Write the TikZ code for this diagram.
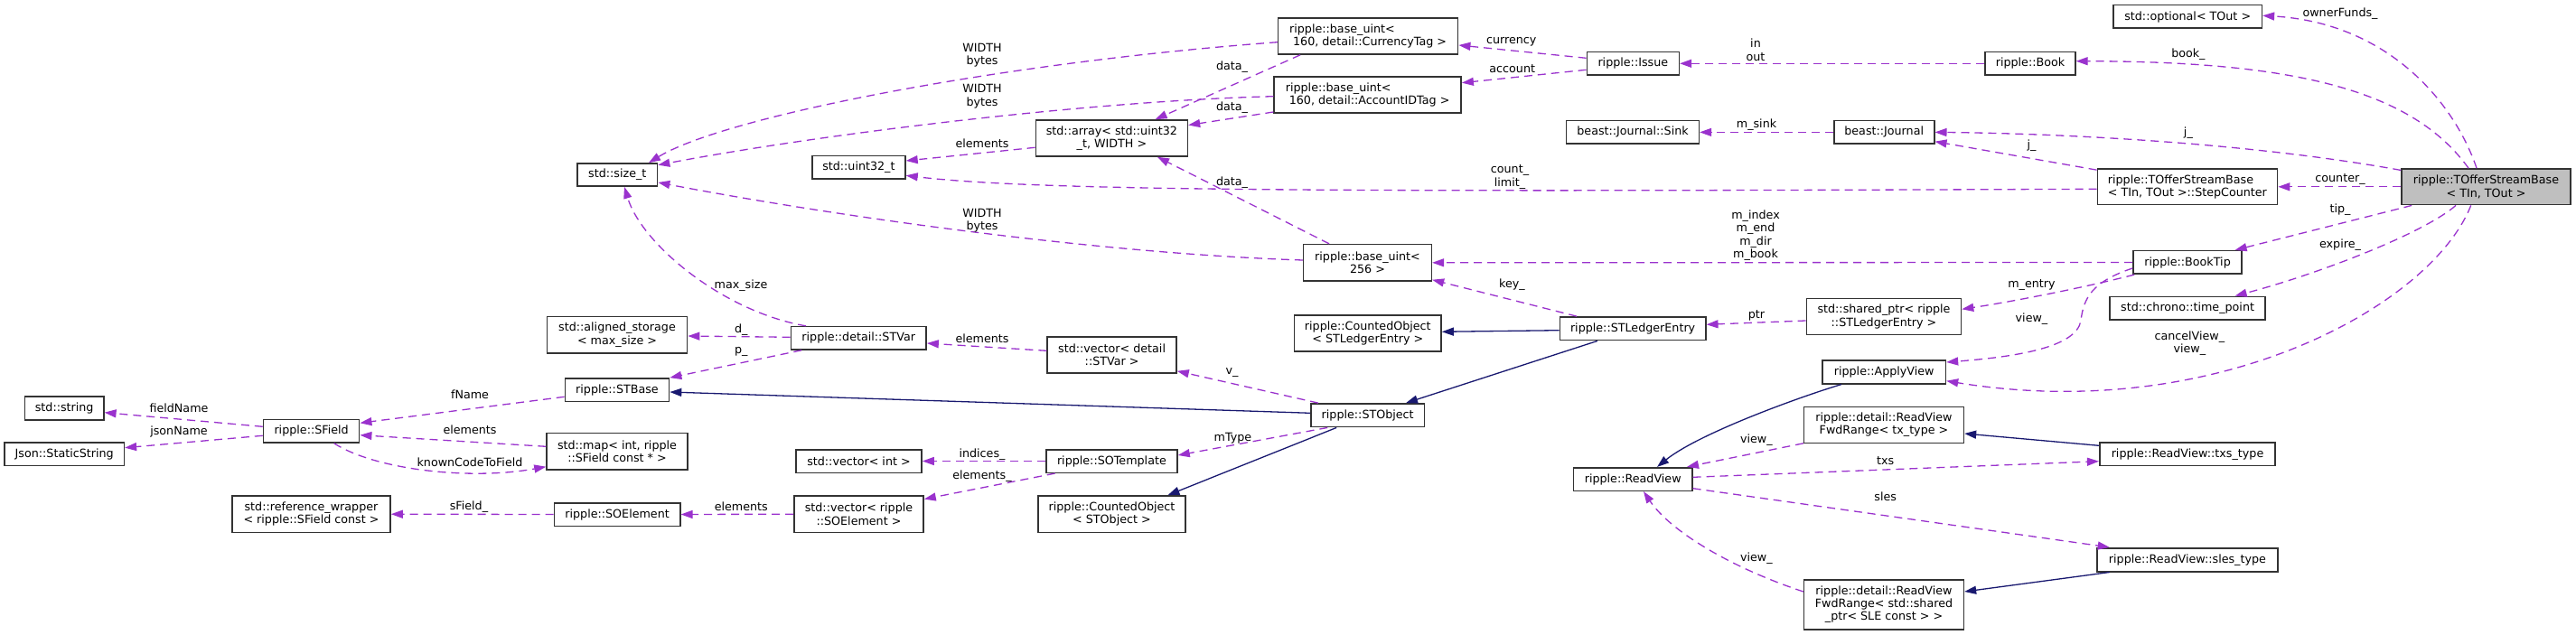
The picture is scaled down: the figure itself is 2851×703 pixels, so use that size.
\documentclass[tikz,border=0pt]{standalone}
\usepackage{fontspec}
\setmainfont{DejaVu Sans}
\usetikzlibrary{arrows.meta}
\definecolor{usecol}{HTML}{9A32CD}
\definecolor{inhcol}{HTML}{191970}
\definecolor{boxgray}{HTML}{333333}
\definecolor{hilite}{HTML}{BFBFBF}
\newcommand\dvfont{\fontsize{12.7}{14.3}\selectfont}
\tikzset{
  cls/.style={draw=boxgray, line width=1.6pt, fill=white, inner sep=0pt, font=\dvfont, align=center},
  clsl/.style={cls, align=left},
  use/.style={draw=usecol, line width=1.3pt, dash pattern=on 9pt off 6pt, -{Triangle[length=13pt,width=9pt]}, usecol},
  inh/.style={draw=inhcol, line width=1.3pt, -{Triangle[length=13pt,width=9pt]}, inhcol},
  lbl/.style={font=\dvfont, align=center, inner sep=0pt, text=black}
}
\begin{document}
\begin{tikzpicture}[x=1pt, y=-1pt]
\useasboundingbox (0,0) rectangle (2851,703);
% ---------- nodes ----------
\node[cls, minimum width=88.5pt, minimum height=25pt] (sizet) at (683.3,193.5) {std::size\_t};
\node[cls, minimum width=103pt, minimum height=25.7pt] (uint32) at (950.4,185.2) {std::uint32\_t};
\node[cls, minimum width=168pt, minimum height=40pt] (arr) at (1230.4,153) {std::array< std::uint32\\\_t, WIDTH >};
\node[clsl, minimum width=199pt, minimum height=40pt] (cur) at (1514.1,40) {ripple::base\_uint<\\\hspace*{4pt}160, detail::CurrencyTag >};
\node[clsl, minimum width=207pt, minimum height=40pt] (acc) at (1513.6,105.2) {ripple::base\_uint<\\\hspace*{4pt}160, detail::AccountIDTag >};
\node[cls, minimum width=102pt, minimum height=25.5pt] (issue) at (1807.3,70.3) {ripple::Issue};
\node[cls, minimum width=99.7pt, minimum height=25.5pt] (book) at (2247,70.3) {ripple::Book};
\node[cls, minimum width=164.3pt, minimum height=25.6pt] (opt) at (2421.2,18.5) {std::optional< TOut >};
\node[cls, minimum width=146.7pt, minimum height=25.8pt] (sink) at (1807,146.4) {beast::Journal::Sink};
\node[cls, minimum width=111pt, minimum height=25.8pt] (journal) at (2085.2,146.4) {beast::Journal};
\node[clsl, minimum width=199.2pt, minimum height=39.7pt] (step) at (2420.9,206.8) {ripple::TOfferStreamBase\\< TIn, TOut >::StepCounter};
\node[cls, fill=hilite, minimum width=187pt, minimum height=39.7pt] (tosb) at (2751.5,206.8) {ripple::TOfferStreamBase\\< TIn, TOut >};
\node[cls, minimum width=141.7pt, minimum height=40.3pt] (u256) at (1513.5,290.8) {ripple::base\_uint<\\256 >};
\node[cls, minimum width=120.3pt, minimum height=25.6pt] (booktip) at (2421.1,290.5) {ripple::BookTip};
\node[cls, minimum width=172pt, minimum height=25.7pt] (chrono) at (2421.1,341.2) {std::chrono::time\_point};
\node[cls, minimum width=171pt, minimum height=40pt] (shptr) at (2085,350.4) {std::shared\_ptr< ripple\\::STLedgerEntry >};
\node[cls, minimum width=161.3pt, minimum height=25.7pt] (sle) at (1807.1,363.8) {ripple::STLedgerEntry};
\node[cls, minimum width=162.4pt, minimum height=40pt] (coSLE) at (1513.8,369.2) {ripple::CountedObject\\< STLedgerEntry >};
\node[cls, minimum width=136.4pt, minimum height=25.5pt] (applyview) at (2085.2,412) {ripple::ApplyView};
\node[cls, minimum width=176.7pt, minimum height=40.2pt] (frtx) at (2085,470.4) {ripple::detail::ReadView\\FwdRange< tx\_type >};
\node[cls, minimum width=131.2pt, minimum height=25.6pt] (readview) at (1807.2,530.5) {ripple::ReadView};
\node[cls, minimum width=194.5pt, minimum height=25.3pt] (txstype) at (2421,502.7) {ripple::ReadView::txs\_type};
\node[cls, minimum width=200.2pt, minimum height=26pt] (slestype) at (2420.9,619.7) {ripple::ReadView::sles\_type};
\node[cls, minimum width=176.7pt, minimum height=55pt] (frsle) at (2085,669.2) {ripple::detail::ReadView\\FwdRange< std::shared\\\_ptr< SLE const > >};
\node[cls, minimum width=125.4pt, minimum height=25.7pt] (stobject) at (1513.7,459.8) {ripple::STObject};
\node[cls, minimum width=149.7pt, minimum height=25.3pt] (stvar) at (950.2,374.3) {ripple::detail::STVar};
\node[cls, minimum width=142.8pt, minimum height=40pt] (vecstvar) at (1230.6,393) {std::vector< detail\\::STVar >};
\node[cls, minimum width=155.2pt, minimum height=40.2pt] (aligned) at (683,370.6) {std::aligned\_storage\\< max\_size >};
\node[cls, minimum width=115.1pt, minimum height=25.7pt] (stbase) at (683,431.8) {ripple::STBase};
\node[cls, minimum width=155.9pt, minimum height=40.5pt] (map) at (683,499.8) {std::map< int, ripple\\::SField const * >};
\node[cls, minimum width=106.1pt, minimum height=25.3pt] (sfield) at (344.6,477.3) {ripple::SField};
\node[cls, minimum width=87.2pt, minimum height=26pt] (string) at (71.2,452) {std::string};
\node[cls, minimum width=132.3pt, minimum height=25.6pt] (jsonss) at (71.2,502.5) {Json::StaticString};
\node[cls, minimum width=175pt, minimum height=40.3pt] (refwrap) at (344.5,569.2) {std::reference\_wrapper\\< ripple::SField const >};
\node[cls, minimum width=139.3pt, minimum height=25.6pt] (soelement) at (683.1,569.5) {ripple::SOElement};
\node[cls, minimum width=143pt, minimum height=40.3pt] (vecsoel) at (950.5,569.2) {std::vector< ripple\\::SOElement >};
\node[cls, minimum width=139pt, minimum height=25.6pt] (vecint) at (950.5,510.5) {std::vector< int >};
\node[cls, minimum width=145.2pt, minimum height=25.6pt] (sotemplate) at (1230.4,510.5) {ripple::SOTemplate};
\node[cls, minimum width=163pt, minimum height=40.3pt] (coSTO) at (1230.5,569.2) {ripple::CountedObject\\< STObject >};
% ---------- usage edges ----------
\draw[use] ([yshift=-6.7pt]cur.west) .. controls (1100,70) and (800,130) .. ([xshift=34.7pt]sizet.north);
\draw[use] ([yshift=-1.5pt]acc.west) .. controls (1200,112) and (900,150) .. ([yshift=10.8pt]sizet.east);
\draw[use] ([yshift=2.8pt]u256.west) .. controls (1200,280) and (900,235) .. ([yshift=-8.5pt]sizet.east);
\draw[use] ([xshift=-75pt]cur.south) -- ([xshift=48.2pt]arr.north);
\draw[use] ([yshift=-18.8pt]acc.west) -- ([yshift=14.5pt]arr.east);
\draw[use] ([xshift=-42.5pt]u256.north) -- ([xshift=50.6pt]arr.south);
\draw[use] ([yshift=-10.3pt]arr.west) -- ([yshift=7.2pt]uint32.east);
\draw[use] ([yshift=-2.5pt]step.west) .. controls (1500,212.5) and (1150,212) .. ([yshift=-9.1pt]uint32.east);
\draw[use] ([yshift=6pt]issue.west) -- ([yshift=-10pt]cur.east);
\draw[use] ([yshift=-7pt]issue.west) -- ([yshift=13.5pt]acc.east);
\draw[use] (book.west) -- (issue.east);
\draw[use] (journal.west) -- (sink.east);
\draw[use] ([xshift=-10.5pt]tosb.north) .. controls (2715,110) and (2640,25) .. ([yshift=1.2pt]opt.east);
\draw[use] ([xshift=-19.5pt]tosb.north) .. controls (2670,100) and (2540,68) .. ([yshift=2.6pt]book.east);
\draw[use] ([yshift=-2.3pt]tosb.north west) .. controls (2500,160) and (2300,148) .. (journal.east);
\draw[use] ([yshift=-2pt]step.north west) -- ([yshift=-10.3pt]journal.east);
\draw[use] (tosb.west) -- (step.east);
\draw[use] ([xshift=12pt]tosb.south west) -- ([xshift=52.5pt]booktip.north);
\draw[use] ([xshift=-33.5pt]tosb.south) .. controls (2680,260) and (2560,305) .. ([xshift=52.5pt]chrono.north);
\draw[use] ([xshift=-16.8pt]tosb.south) .. controls (2690,340) and (2450,470) .. ([yshift=-9.7pt]applyview.east);
\draw[use] (booktip.west) -- (u256.east);
\draw[use] ([xshift=2pt]booktip.south west) .. controls (2300,320) and (2220,335) .. ([yshift=8.1pt]shptr.east);
\draw[use] ([yshift=-6.5pt]booktip.west) .. controls (2315,312) and (2306,330) .. (2303,355) .. controls (2298,385) and (2230,395) .. ([yshift=11pt]applyview.east);
\draw[use] ([yshift=-4.6pt]shptr.west) -- ([yshift=4.5pt]sle.east);
\draw[use] ([xshift=-62.1pt]sle.north) -- ([yshift=2pt]u256.south east);
\draw[use] ([yshift=0.5pt]frtx.south west) -- ([xshift=59.8pt]readview.north);
\draw[use] ([yshift=2.2pt]readview.east) -- ([yshift=-8pt]txstype.west);
\draw[use] ([yshift=-10.2pt]readview.east) -- ([xshift=-86.2pt]slestype.north);
\draw[use] ([yshift=14.2pt]frsle.west) .. controls (1920,630) and (1850,590) .. ([xshift=11.8pt]readview.south);
\draw[use] ([xshift=8.7pt]stobject.north west) -- ([yshift=3pt]vecstvar.south east);
\draw[use] ([xshift=19pt]stobject.south west) -- ([yshift=6.5pt]sotemplate.east);
\draw[use] ([xshift=-58.2pt]stvar.north) .. controls (800,345) and (710,270) .. ([xshift=7.7pt]sizet.south);
\draw[use] ([yshift=1pt]stvar.west) -- ([yshift=-1.4pt]aligned.east);
\draw[use] ([xshift=12.6pt]stvar.south west) -- (stbase.north east);
\draw[use] ([yshift=4.7pt]vecstvar.west) -- ([yshift=-5.7pt]stvar.east);
\draw[use] (sotemplate.west) -- (vecint.east);
\draw[use] ([xshift=10.6pt]sotemplate.south west) -- ([yshift=-4.3pt]vecsoel.north east);
\draw[use] (vecsoel.west) -- (soelement.east);
\draw[use] (soelement.west) -- (refwrap.east);
\draw[use] ([yshift=-7.5pt]stbase.west) -- ([yshift=9pt]sfield.east);
\draw[use] ([yshift=5.5pt]map.west) -- ([yshift=-4.4pt]sfield.east);
\draw[use] ([xshift=25.1pt]sfield.south) .. controls (415,520) and (520,532) .. ([yshift=-16.9pt]map.west);
\draw[use] ([yshift=5pt]sfield.west) -- ([yshift=-4.7pt]string.east);
\draw[use] ([yshift=-5pt]sfield.west) -- ([yshift=6.8pt]jsonss.east);
% ---------- inheritance edges ----------
\draw[inh] ([yshift=-1.9pt]sle.west) -- ([yshift=1.9pt]coSLE.east);
\draw[inh] ([xshift=-39.2pt]sle.south) -- ([xshift=42.3pt]stobject.north);
\draw[inh] ([xshift=-47.2pt]applyview.south) .. controls (1990,440) and (1880,480) .. ([xshift=26.8pt]readview.north);
\draw[inh] ([yshift=9.4pt]txstype.west) -- ([yshift=-9.6pt]frtx.east);
\draw[inh] ([xshift=-86.2pt]slestype.south) -- ([yshift=14.2pt]frsle.east);
\draw[inh] ([yshift=2.5pt]stobject.west) -- ([yshift=-2.2pt]stbase.east);
\draw[inh] ([xshift=29pt]stobject.south west) -- ([xshift=61.9pt]coSTO.north);
% ---------- labels ----------
\node[lbl] (l1) at (1087,61.5) {WIDTH\\bytes};
\node[lbl] (l2) at (1087,106.8) {WIDTH\\bytes};
\node[lbl] (l3) at (1087,244.2) {WIDTH\\bytes};
\node[lbl] (l4) at (1363.5,74.3) {data\_};
\node[lbl] (l5) at (1363.5,119.3) {data\_};
\node[lbl] (l6) at (1363.5,202.3) {data\_};
\node[lbl] (l7) at (1087,158.3) {elements};
\node[lbl] (l8) at (1671,196) {count\_\\limit\_};
\node[lbl] (l9) at (1672.8,46.7) {currency};
\node[lbl] (l10) at (1673.7,75.7) {account};
\node[lbl] (l11) at (1943,55.2) {in\\out};
\node[lbl] (l12) at (1944,138.5) {m\_sink};
\node[lbl] (l13) at (2590,15) {ownerFunds\_};
\node[lbl] (l14) at (2421.9,60) {book\_};
\node[lbl] (l15) at (2421.9,146.7) {j\_};
\node[lbl] (l16) at (2248.5,161) {j\_};
\node[lbl] (l17) at (2590,199) {counter\_};
\node[lbl] (l18) at (2590,231.7) {tip\_};
\node[lbl] (l19) at (2590,271) {expire\_};
\node[lbl] (l20) at (2423.3,380.2) {cancelView\_\\view\_};
\node[lbl] (l21) at (1943,260.7) {m\_index\\m\_end\\m\_dir\\m\_book};
\node[lbl] (l22) at (2248.5,316) {m\_entry};
\node[lbl] (l23) at (2248.5,352.7) {view\_};
\node[lbl] (l24) at (1944,349) {ptr};
\node[lbl] (l25) at (1673.5,315) {key\_};
\node[lbl] (l26) at (1943.9,486.7) {view\_};
\node[lbl] (l27) at (2086.7,510) {txs};
\node[lbl] (l28) at (2086.7,550) {sles};
\node[lbl] (l29) at (1943.9,618.3) {view\_};
\node[lbl] (l30) at (1363.5,412.7) {v\_};
\node[lbl] (l31) at (1364.5,485) {mType};
\node[lbl] (l32) at (820,315.7) {max\_size};
\node[lbl] (l33) at (820.3,365) {d\_};
\node[lbl] (l34) at (820.3,389.3) {p\_};
\node[lbl] (l35) at (1087,374.3) {elements};
\node[lbl] (l36) at (1087,502.7) {indices\_};
\node[lbl] (l37) at (1087,526.7) {elements\_};
\node[lbl] (l38) at (820.3,560.7) {elements};
\node[lbl] (l39) at (519,560.7) {sField\_};
\node[lbl] (l40) at (520,436.7) {fName};
\node[lbl] (l41) at (520,475.7) {elements};
\node[lbl] (l42) at (520,512) {knownCodeToField};
\node[lbl] (l43) at (198,451.7) {fieldName};
\node[lbl] (l44) at (198,478) {jsonName};
\end{tikzpicture}
\end{document}
